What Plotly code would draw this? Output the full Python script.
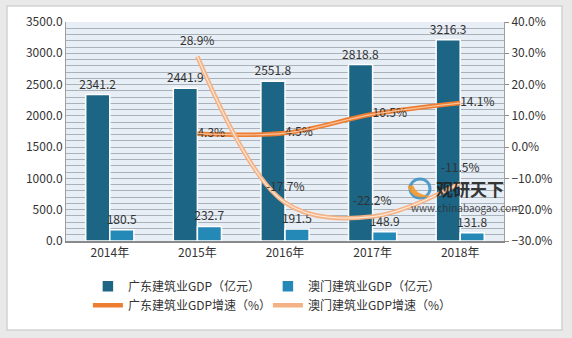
import plotly.graph_objects as go

years = ["2014年", "2015年", "2016年", "2017年", "2018年"]
gd_gdp = [2341.2, 2441.9, 2551.8, 2818.8, 3216.3]
mo_gdp = [180.5, 232.7, 191.5, 148.9, 131.8]
growth_years = ["2015年", "2016年", "2017年", "2018年"]
gd_growth = [4.3, 4.5, 10.5, 14.1]
mo_growth = [28.9, -17.7, -22.2, -11.5]
left_ticks = list(range(0, 3501, 100))

names = ["广东建筑业GDP（亿元）", "澳门建筑业GDP（亿元）",
         "广东建筑业GDP增速（%）", "澳门建筑业GDP增速（%）"]

FONT = "Noto Sans CJK SC"
dark = "#1c6585"
light = "#2589b8"
gd_line = "#ed7d31"
mo_line = "#f4b183"
TXT = "#333333"

fig = go.Figure()
fig.add_trace(go.Bar(
    x=years, y=gd_gdp, name=names[0], marker=dict(color=dark, line=dict(color="white", width=1.5)),
    text=[f"{v:.1f}" for v in gd_gdp], textposition="outside", cliponaxis=False, constraintext="none",
    textfont=dict(size=12, color=TXT), yaxis="y"))
fig.add_trace(go.Bar(
    x=years, y=mo_gdp, name=names[1], marker=dict(color=light, line=dict(color="white", width=1.5)),
    text=[f"{v:.1f}" for v in mo_gdp], textposition="outside", cliponaxis=False, constraintext="none",
    textfont=dict(size=12, color=TXT), yaxis="y"))

# Guangdong growth line (double line effect)
fig.add_trace(go.Scatter(
    x=growth_years, y=gd_growth, name=names[2], mode="lines+text",
    line=dict(color=gd_line, width=4.5, shape="spline", smoothing=1),
    text=[f"{v}%" for v in gd_growth], textposition="middle right",
    textfont=dict(size=12, color=TXT), yaxis="y2", cliponaxis=False))
fig.add_trace(go.Scatter(
    x=growth_years, y=gd_growth, mode="lines", showlegend=False, hoverinfo="skip",
    line=dict(color="#f8c29b", width=1.2, shape="spline", smoothing=1), yaxis="y2"))
# Macau growth line
fig.add_trace(go.Scatter(
    x=growth_years, y=mo_growth, name=names[3], mode="lines",
    line=dict(color=mo_line, width=4.5, shape="spline", smoothing=1),
    yaxis="y2", cliponaxis=False))
fig.add_trace(go.Scatter(
    x=growth_years, y=mo_growth, mode="lines", showlegend=False, hoverinfo="skip",
    line=dict(color="#fde6d5", width=1.2, shape="spline", smoothing=1), yaxis="y2"))
for xv, yv in zip(growth_years, mo_growth):
    fig.add_annotation(x=xv, y=yv, xref="x", yref="y2", text=f"{yv}%", showarrow=False,
                       yshift=17, font=dict(size=12, color=TXT))


def px(xp):
    return (xp - 66) / 438


def py(yp):
    return (241 - yp) / 219


# outer frame: grey strips outside the white panel
strip = dict(type="rect", xref="paper", yref="paper", fillcolor="#e9e9e9", line=dict(width=0), layer="below")
fig.add_shape(**strip, x0=px(-2), x1=px(7), y0=py(340), y1=py(-2))
fig.add_shape(**strip, x0=px(562), x1=px(574), y0=py(340), y1=py(-2))
fig.add_shape(**strip, x0=px(-2), x1=px(574), y0=py(6), y1=py(-2))
fig.add_shape(**strip, x0=px(-2), x1=px(574), y0=py(340), y1=py(330))
fig.add_shape(type="rect", xref="paper", yref="paper", x0=px(7), x1=px(562), y0=py(330), y1=py(6),
              line=dict(color="#d2d2d2", width=1.5), layer="below")

# watermark logo (approximate) and text
fig.add_shape(type="circle", xref="paper", yref="paper", x0=px(410), x1=px(430), y0=py(198), y1=py(179),
              line=dict(color="#3a8fc4", width=3), opacity=0.85)
fig.add_shape(type="path", xref="paper", yref="paper",
              path=f"M {px(408)},{py(186)} Q {px(412)},{py(200)} {px(428)},{py(196)} "
                   f"Q {px(416)},{py(195)} {px(413)},{py(186)} Z",
              fillcolor="#f39a2b", line=dict(color="#f39a2b", width=1), opacity=0.9)
fig.add_annotation(xref="paper", yref="paper", x=px(470), y=py(188),
                   xanchor="center", yanchor="middle",
                   text="<b>观研天下</b>", showarrow=False, font=dict(size=17, color="#222222", family=FONT),
                   opacity=0.9)
fig.add_annotation(xref="paper", yref="paper", x=px(466), y=py(207),
                   xanchor="center", yanchor="middle",
                   text="www.chinabaogao.com", showarrow=False, font=dict(size=10, color="#333333", family=FONT),
                   opacity=0.85)

fig.update_layout(
    width=572, height=338,
    margin=dict(l=66, r=68, t=22, b=97),
    paper_bgcolor="white",
    plot_bgcolor="#e8eef5",
    font=dict(family=FONT, size=12, color=TXT),
    barmode="group", bargap=0.45, bargroupgap=0.0,
    showlegend=True,
    legend=dict(orientation="h", x=0.05, y=-0.14, xanchor="left", yanchor="top",
                entrywidth=135, entrywidthmode="pixels", bgcolor="white",
                font=dict(size=12, color=TXT), tracegroupgap=0, itemwidth=30),
    xaxis=dict(showline=True, linecolor="#8a8a8a", linewidth=1.5, mirror=False, ticks="",
               tickfont=dict(size=12), showgrid=False),
    yaxis=dict(range=[0, 3500], tickmode="array", tickvals=left_ticks,
               ticktext=[f"{v:.1f}" if v % 500 == 0 else "" for v in left_ticks],
               showgrid=True, gridcolor="#a9b1b9", gridwidth=1,
               showline=True, linecolor="#a0a0a0", linewidth=1, ticks="", zeroline=False,
               tickfont=dict(size=12)),
    yaxis2=dict(range=[-30, 40], dtick=10, overlaying="y", side="right",
                tickformat=".1f", ticksuffix="%", showgrid=False, zeroline=False,
                showline=True, linecolor="#a0a0a0", ticks="outside", ticklen=4, tickcolor="#8a8a8a",
                tickfont=dict(size=12)),
)

fig.write_html("out.html")
